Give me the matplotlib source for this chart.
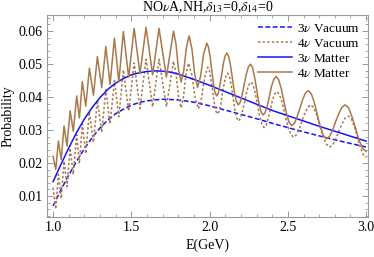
import matplotlib
matplotlib.use("Agg")
import matplotlib.pyplot as plt
import numpy as np
from matplotlib.ticker import MultipleLocator, FormatStrFormatter

plt.rcParams["font.family"] = "Liberation Serif"
plt.rcParams["mathtext.fontset"] = "stix"

# 3 flavour curves
e_3nu = [1.00, 1.05, 1.10, 1.15, 1.20, 1.25, 1.30, 1.35, 1.40, 1.45, 1.50, 1.55,
         1.60, 1.65, 1.70, 1.75, 1.80, 1.90, 2.00, 2.10, 2.20, 2.30, 2.40, 2.50,
         2.60, 2.70, 2.80, 2.90, 3.00]
p_3nu_vac = [0.0070, 0.0118, 0.0163, 0.0205, 0.0243, 0.0277, 0.0306, 0.0330, 0.0349,
             0.0363, 0.0375, 0.0383, 0.0388, 0.0391, 0.0393, 0.0392, 0.0391, 0.0384,
             0.0373, 0.0360, 0.0347, 0.0334, 0.0320, 0.0307, 0.0294, 0.0282, 0.0270,
             0.0259, 0.0248]
p_3nu_mat = [0.0143, 0.0195, 0.0245, 0.0292, 0.0333, 0.0368, 0.0398, 0.0423, 0.0442,
             0.0456, 0.0467, 0.0473, 0.0477, 0.0479, 0.0478, 0.0475, 0.0469, 0.0453,
             0.0435, 0.0416, 0.0397, 0.0378, 0.0359, 0.0343, 0.0327, 0.0311, 0.0296,
             0.0281, 0.0266]

# 4 flavour, matter (peaks / troughs and points in between)
e_4nu_mat = [1.000, 1.017, 1.034, 1.052, 1.070, 1.089, 1.109, 1.129, 1.151, 1.168,
             1.187, 1.209, 1.232, 1.258, 1.283, 1.311, 1.337, 1.364, 1.392, 1.420,
             1.449, 1.483, 1.518, 1.555, 1.594, 1.636, 1.677, 1.724, 1.769, 1.785,
             1.801, 1.818, 1.835, 1.852, 1.869, 1.887, 1.905, 1.923, 1.942, 1.962,
             1.982, 2.003, 2.024, 2.045, 2.066, 2.088, 2.110, 2.134, 2.158, 2.183,
             2.208, 2.234, 2.261, 2.287, 2.314, 2.342, 2.369, 2.396, 2.425, 2.458,
             2.491, 2.525, 2.559, 2.595, 2.631, 2.669, 2.707, 2.747, 2.786, 2.826,
             2.866, 2.909, 2.954, 3.000,
             1.992, 2.013, 2.034, 2.056, 2.077, 2.099, 2.122, 2.146, 2.170, 2.196,
             2.221, 2.248, 2.274, 2.301, 2.328, 2.355, 2.383, 2.411, 2.441, 2.474,
             2.508, 2.542, 2.577, 2.613, 2.650, 2.688, 2.727, 2.766, 2.805, 2.846,
             2.888, 2.932, 2.977]
p_4nu_mat = [0.0220, 0.0180, 0.0266, 0.0210, 0.0312, 0.0251, 0.0358, 0.0296, 0.0403, 0.0336,
             0.0446, 0.0372, 0.0487, 0.0405, 0.0522, 0.0428, 0.0553, 0.0438, 0.0578, 0.0445,
             0.0598, 0.0460, 0.0608, 0.0470, 0.0611, 0.0467, 0.0608, 0.0460, 0.0599, 0.0561,
             0.0484, 0.0445, 0.0480, 0.0550, 0.0585, 0.0546, 0.0468, 0.0429, 0.0462, 0.0530,
             0.0563, 0.0523, 0.0443, 0.0403, 0.0436, 0.0501, 0.0533, 0.0494, 0.0415, 0.0376,
             0.0407, 0.0468, 0.0499, 0.0461, 0.0384, 0.0345, 0.0374, 0.0433, 0.0462, 0.0425,
             0.0350, 0.0313, 0.0340, 0.0393, 0.0419, 0.0383, 0.0310, 0.0273, 0.0299, 0.0350,
             0.0376, 0.0341, 0.0270, 0.0235,
             0.0552, 0.0483, 0.0414, 0.0412, 0.0468, 0.0524, 0.0522, 0.0455, 0.0387, 0.0384,
             0.0438, 0.0491, 0.0489, 0.0422, 0.0355, 0.0353, 0.0404, 0.0454, 0.0452, 0.0388,
             0.0323, 0.0320, 0.0366, 0.0412, 0.0409, 0.0346, 0.0283, 0.0280, 0.0325, 0.0369,
             0.0367, 0.0306, 0.0244]

# 4 flavour, vacuum
e_4nu_vac = [1.000, 1.017, 1.034, 1.052, 1.070, 1.089, 1.109, 1.129, 1.151, 1.168,
             1.187, 1.209, 1.232, 1.258, 1.283, 1.311, 1.337, 1.364, 1.392, 1.420,
             1.449, 1.483, 1.518, 1.555, 1.594, 1.636, 1.677, 1.724, 1.769, 1.785,
             1.801, 1.818, 1.833, 1.849, 1.865, 1.886, 1.907, 1.929, 1.948, 1.968,
             1.988, 2.008, 2.029, 2.050, 2.072, 2.093, 2.116, 2.138, 2.161, 2.184,
             2.210, 2.237, 2.265, 2.292, 2.320, 2.348, 2.374, 2.401, 2.429, 2.464,
             2.499, 2.536, 2.572, 2.609, 2.647, 2.685, 2.725, 2.766, 2.805, 2.846,
             2.887, 2.924, 2.961, 3.000,
             1.998, 2.019, 2.039, 2.061, 2.082, 2.105, 2.127, 2.149, 2.172, 2.197,
             2.224, 2.251, 2.278, 2.306, 2.334, 2.361, 2.388, 2.415, 2.446, 2.481,
             2.518, 2.554, 2.590, 2.628, 2.666, 2.705, 2.746, 2.786, 2.825, 2.866,
             2.905, 2.943, 2.981]
p_4nu_vac = [0.0125, 0.0060, 0.0165, 0.0092, 0.0205, 0.0128, 0.0245, 0.0165, 0.0285, 0.0198,
             0.0318, 0.0228, 0.0355, 0.0262, 0.0390, 0.0293, 0.0422, 0.0318, 0.0450, 0.0340,
             0.0482, 0.0357, 0.0503, 0.0365, 0.0514, 0.0370, 0.0514, 0.0370, 0.0508, 0.0473,
             0.0403, 0.0367, 0.0400, 0.0468, 0.0502, 0.0468, 0.0399, 0.0364, 0.0396, 0.0458,
             0.0490, 0.0455, 0.0384, 0.0348, 0.0379, 0.0441, 0.0472, 0.0436, 0.0363, 0.0327,
             0.0357, 0.0416, 0.0445, 0.0411, 0.0342, 0.0307, 0.0334, 0.0389, 0.0416, 0.0382,
             0.0313, 0.0278, 0.0302, 0.0352, 0.0376, 0.0344, 0.0280, 0.0248, 0.0272, 0.0318,
             0.0342, 0.0311, 0.0249, 0.0217,
             0.0481, 0.0419, 0.0358, 0.0356, 0.0410, 0.0464, 0.0462, 0.0400, 0.0337, 0.0335,
             0.0386, 0.0437, 0.0436, 0.0376, 0.0316, 0.0314, 0.0362, 0.0409, 0.0407, 0.0347,
             0.0287, 0.0285, 0.0327, 0.0369, 0.0367, 0.0312, 0.0257, 0.0254, 0.0295, 0.0336,
             0.0334, 0.0280, 0.0225]


def sorted_pts(e, p):
    e = np.asarray(e)
    p = np.asarray(p)
    idx = np.argsort(e, kind="stable")
    return e[idx], p[idx]


blue = "#1414ff"
brown = "#a8794a"

fig = plt.figure(figsize=(3.74, 2.57), dpi=100)
ax = fig.add_axes([0.126, 0.156, 0.858, 0.786])

ev, pv = sorted_pts(e_4nu_vac, p_4nu_vac)
em, pm = sorted_pts(e_4nu_mat, p_4nu_mat)

ax.plot(e_3nu, p_3nu_vac, color=blue, lw=1.1, ls=(0, (3.2, 1.6)), label=r"3$\nu$ Vacuum")
ax.plot(ev, pv, color=brown, lw=1.1, ls=(0, (1.6, 1.4)), label=r"4$\nu$ Vacuum")
ax.plot(e_3nu, p_3nu_mat, color=blue, lw=1.1, label=r"3$\nu$ Matter")
ax.plot(em, pm, color=brown, lw=1.1, label=r"4$\nu$ Matter")

ax.set_xlim(0.962, 3.012)
ax.set_ylim(0.00364, 0.06485)

ax.xaxis.set_major_locator(MultipleLocator(0.5))
ax.xaxis.set_minor_locator(MultipleLocator(0.1))
ax.xaxis.set_major_formatter(FormatStrFormatter("%.1f"))
ax.yaxis.set_major_locator(MultipleLocator(0.01))
ax.yaxis.set_minor_locator(MultipleLocator(0.002))
ax.yaxis.set_major_formatter(FormatStrFormatter("%.2f"))

frame_col = "#9a9a9a"
for s in ax.spines.values():
    s.set_color(frame_col)
    s.set_linewidth(0.8)
ax.tick_params(which="both", direction="in", top=True, right=True, color=frame_col,
               labelsize=10, pad=3)
ax.tick_params(which="major", length=4, width=0.7)
ax.tick_params(which="minor", length=2, width=0.6)

ax.set_xlabel("E(GeV)", fontsize=10, labelpad=3)
ax.set_ylabel("Probability", fontsize=10, labelpad=3)
ax.set_title(r"NO$\nu$A,NH,$\delta_{13}$=0,$\delta_{14}$=0", fontsize=10, pad=3)

ax.legend(loc="upper right", frameon=False, fontsize=9.5, handlelength=2.6,
          handletextpad=0.4, labelspacing=0.2, borderaxespad=0.2)

fig.savefig("out.png", dpi=100)
